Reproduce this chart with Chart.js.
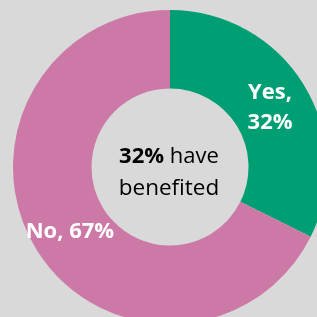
<!DOCTYPE html>
<html>
<head>
<meta charset="utf-8">
<script src="https://cdn.jsdelivr.net/npm/chart.js@4"></script>
<style>
    html, body { margin: 0; padding: 0; width: 317px; height: 317px; overflow: hidden; background: #d9d9d9; }
    #wrap { position: absolute; left: 13px; top: 10px; width: 314px; height: 314px; }
</style>
</head>
<body>
<div id="wrap"><canvas id="chart"></canvas></div>
<script>
// data
const categories = ['Yes', 'No'];
const values = [32, 67];
const colors = ['#009e73', '#cc79a7'];
const centerBold = '32%';
const centerRest = ' have';
const centerLine2 = 'benefited';

const FONT = '"Open Sans", sans-serif';

// slice labels + center text
const labelPlugin = {
    id: 'labelPlugin',
    afterDatasetsDraw(chart) {
        const ctx = chart.ctx;
        const meta = chart.getDatasetMeta(0);
        ctx.save();
        ctx.fillStyle = '#ffffff';
        ctx.textAlign = 'center';
        ctx.textBaseline = 'alphabetic';
        ctx.font = 'bold 22px ' + FONT;
        meta.data.forEach((arc, i) => {
            const p = arc.tooltipPosition();
            if (i === 0) {
                ctx.fillText(categories[i] + ',', p.x, p.y - 6);
                ctx.fillText(values[i] + '%', p.x, p.y + 24);
            } else {
                ctx.fillText(categories[i] + ', ' + values[i] + '%', p.x, p.y + 9);
            }
        });

        const cx = (chart.chartArea.left + chart.chartArea.right) / 2;
        const cy = (chart.chartArea.top + chart.chartArea.bottom) / 2;
        ctx.fillStyle = '#000000';
        ctx.font = 'bold 22px ' + FONT;
        const wb = ctx.measureText(centerBold).width;
        ctx.font = '22px ' + FONT;
        const wr = ctx.measureText(centerRest).width;
        const x0 = cx - 1 - (wb + wr) / 2;
        ctx.textAlign = 'left';
        ctx.font = 'bold 22px ' + FONT;
        ctx.fillText(centerBold, x0, cy - 4);
        ctx.font = '22px ' + FONT;
        ctx.fillText(centerRest, x0 + wb, cy - 4);
        ctx.textAlign = 'center';
        ctx.font = '22.5px ' + FONT;
        ctx.fillText(centerLine2, cx - 1, cy + 28);
        ctx.restore();
    }
};

new Chart(document.getElementById('chart').getContext('2d'), {
    type: 'doughnut',
    data: {
        labels: categories,
        datasets: [{
            data: values,
            backgroundColor: colors,
            borderWidth: 0
        }]
    },
    options: {
        responsive: true,
        maintainAspectRatio: false,
        animation: false,
        cutout: '50%',
        layout: { padding: 0 },
        plugins: {
            legend: { display: false },
            tooltip: { enabled: false }
        }
    },
    plugins: [labelPlugin]
});
</script>
</body>
</html>
